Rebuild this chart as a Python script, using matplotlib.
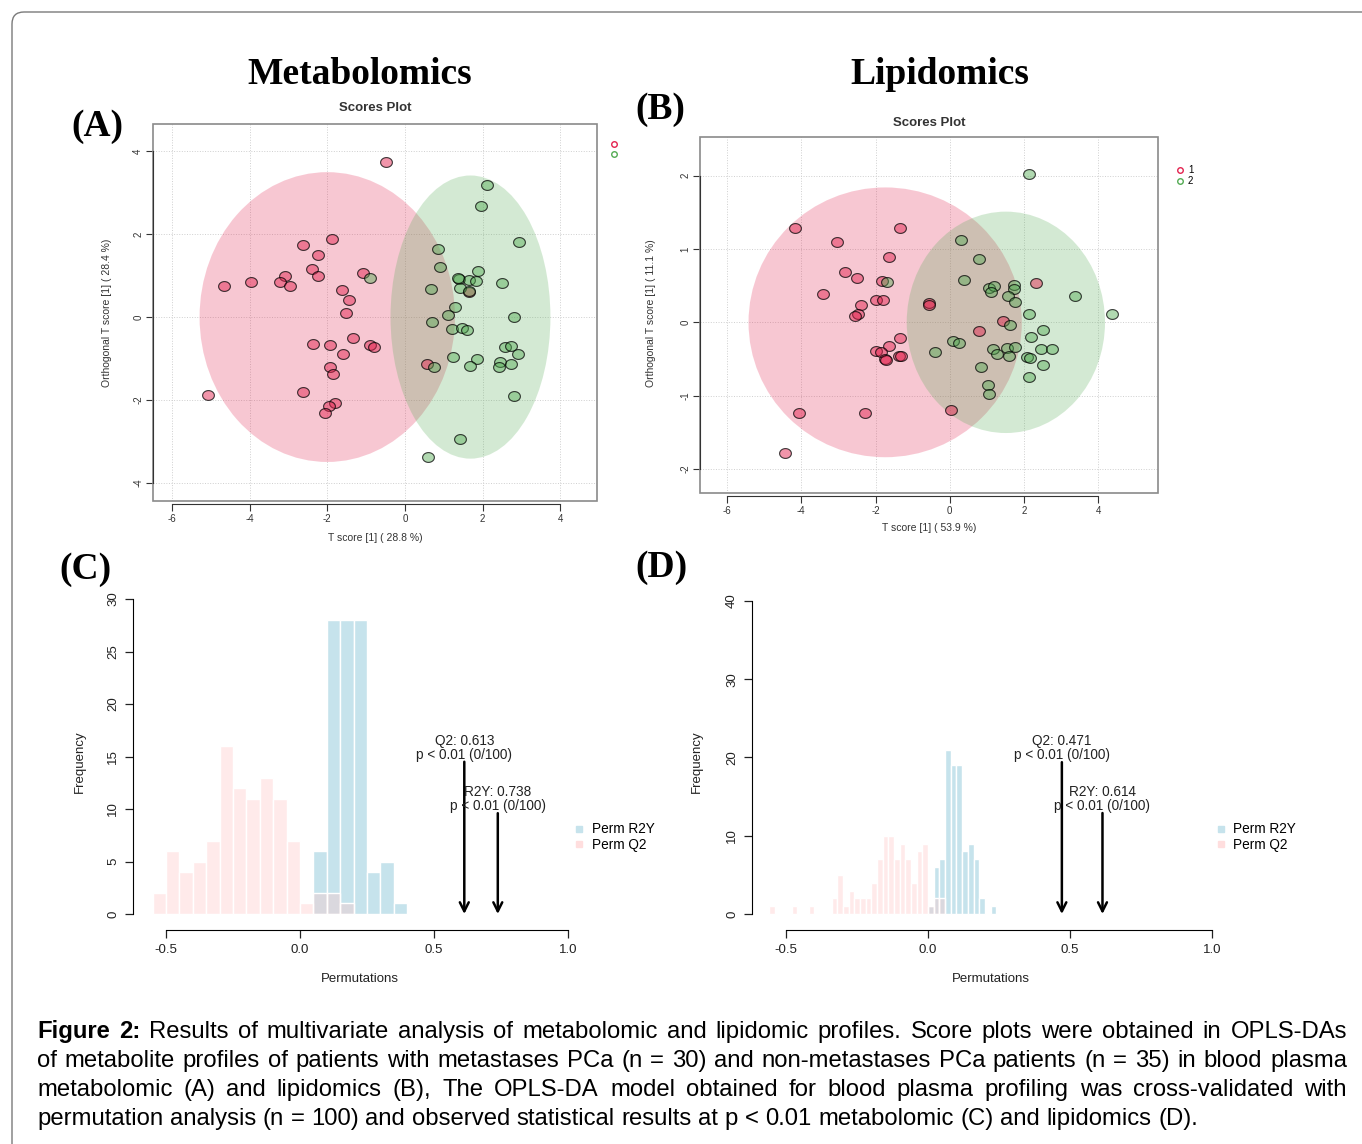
import numpy as np
import matplotlib
matplotlib.use('Agg')
import matplotlib.pyplot as plt
from matplotlib.patches import Ellipse, Rectangle, FancyBboxPatch
from matplotlib.path import Path
from matplotlib.lines import Line2D
from matplotlib.colors import to_rgba

plt.rcParams['font.family'] = ['Liberation Sans', 'DejaVu Sans']
plt.rcParams['axes.unicode_minus'] = False

# ---- (A) metabolomics scores ----
a_pink_x = [-0.49, -1.89, -2.63, -2.25, -2.40, -2.25, -3.08, -4.65, -3.96, -3.23,
            -2.96, -1.09, -1.63, -1.44, -1.52, -1.33, -2.36, -1.92, -1.60, -0.90,
            -0.80, -1.92, -1.84, -2.62, -5.08, -1.80, -1.95, -2.07, 0.57, 1.65]
a_pink_y = [3.73, 1.89, 1.73, 1.50, 1.16, 0.98, 1.00, 0.74, 0.85, 0.84,
            0.74, 1.05, 0.64, 0.42, 0.10, -0.51, -0.65, -0.68, -0.88, -0.68,
            -0.71, -1.21, -1.36, -1.81, -1.88, -2.07, -2.14, -2.30, -1.13, 0.61]
a_green_x = [-0.91, 2.12, 1.95, 2.93, 0.86, 0.91, 1.88, 1.39, 1.65, 1.84,
             2.50, 0.67, 1.43, 1.64, 1.30, 1.11, 2.80, 0.70, 1.21, 1.48,
             1.61, 2.57, 2.73, 2.91, 1.23, 1.85, 1.69, 2.46, 2.43, 2.74,
             0.74, 2.80, 1.41, 0.60, 1.37]
a_green_y = [0.95, 3.17, 2.68, 1.82, 1.64, 1.21, 1.12, 0.92, 0.89, 0.88,
             0.83, 0.67, 0.71, 0.63, 0.24, 0.04, 0.01, -0.11, -0.29, -0.27,
             -0.30, -0.71, -0.69, -0.88, -0.96, -1.02, -1.18, -1.08, -1.20, -1.12,
             -1.20, -1.90, -2.93, -3.37, 0.93]
# ellipse: centre x, centre y, width, height, angle
a_ell_pink = (-2.0, 0.0, 6.58, 6.98, 0)
a_ell_green = (1.69, 0.0, 4.12, 6.82, 0)

# ---- (B) lipidomics scores ----
b_pink_x = [-4.16, -1.34, -3.04, -1.65, -2.83, -2.49, -1.82, -3.42, -1.98, -1.81,
            -2.39, -2.46, -2.55, -0.57, -0.56, 2.33, 1.43, 0.78, -1.33, -1.65,
            -1.99, -1.84, -1.74, -1.71, -1.38, -1.32, -4.05, -2.29, 0.04, -4.43]
b_pink_y = [1.29, 1.28, 1.09, 0.89, 0.69, 0.60, 0.57, 0.38, 0.30, 0.30,
            0.23, 0.12, 0.08, 0.27, 0.24, 0.53, 0.02, -0.12, -0.21, -0.32,
            -0.39, -0.41, -0.50, -0.51, -0.46, -0.46, -1.24, -1.24, -1.19, -1.78]
b_green_x = [2.13, 0.30, 0.78, 0.39, -1.68, 1.05, 1.20, 1.11, 1.73, 1.73,
             1.57, 1.76, 3.38, 2.13, 4.37, 1.61, 2.50, 2.19, 0.09, 0.25,
             -0.41, 1.17, 1.28, 1.55, 1.76, 1.59, 2.45, 2.74, 2.09, 2.17,
             2.50, 0.85, 2.12, 1.02, 1.06]
b_green_y = [2.03, 1.12, 0.86, 0.58, 0.55, 0.47, 0.49, 0.41, 0.51, 0.45,
             0.36, 0.28, 0.36, 0.12, 0.11, -0.03, -0.10, -0.20, -0.25, -0.28,
             -0.40, -0.37, -0.43, -0.35, -0.33, -0.46, -0.36, -0.36, -0.47, -0.48,
             -0.58, -0.61, -0.75, -0.86, -0.98]
b_ell_pink = (-1.74, 0.0, 7.36, 3.68, 0)
b_ell_green = (1.51, 0.0, 5.34, 3.02, 0)

# ---- (C) permutation histogram, metabolomics ----
c_q2_left = [-0.55, -0.50, -0.45, -0.40, -0.35, -0.30, -0.25, -0.20, -0.15, -0.10,
             -0.05, 0.00, 0.05, 0.10, 0.15]
c_q2_count = [2, 6, 4, 5, 7, 16, 12, 11, 13, 11, 7, 1, 2, 2, 1]
c_r2y_left = [0.05, 0.10, 0.15, 0.20, 0.25, 0.30, 0.35]
c_r2y_count = [6, 28, 28, 28, 4, 5, 1]
c_binw = 0.05
c_q2, c_r2y = 0.613, 0.738

# ---- (D) permutation histogram, lipidomics ----
d_q2_left = [-0.56, -0.48, -0.42, -0.34, -0.32, -0.30, -0.28, -0.26, -0.24, -0.22,
             -0.20, -0.18, -0.16, -0.14, -0.12, -0.10, -0.08, -0.06, -0.04, -0.02,
             0.00, 0.02, 0.04]
d_q2_count = [1, 1, 1, 2, 5, 1, 3, 2, 2, 2, 4, 7, 10, 10, 7, 9, 7, 4, 8, 9, 1, 2, 2]
d_r2y_left = [0.00, 0.02, 0.04, 0.06, 0.08, 0.10, 0.12, 0.14, 0.16, 0.18, 0.22]
d_r2y_count = [1, 6, 7, 21, 19, 19, 8, 9, 7, 2, 1]
d_binw = 0.02
d_q2, d_r2y = 0.471, 0.614

caption = [
    "Figure 2: Results of multivariate analysis of metabolomic and lipidomic profiles. Score plots were obtained in OPLS-DAs",
    "of metabolite profiles of patients with metastases PCa (n = 30) and non-metastases PCa patients (n = 35) in blood plasma",
    "metabolomic (A) and lipidomics (B), The OPLS-DA model obtained for blood plasma profiling was cross-validated with",
    "permutation analysis (n = 100) and observed statistical results at p < 0.01 metabolomic (C) and lipidomics (D).",
]

PINK = '#e3234f'
GREEN = '#53ab53'
BLUE_H = '#c6e3ec'
PINK_H = (1.0, 0.78, 0.78, 0.36)

W, H = 1362, 1144
fig = plt.figure(figsize=(W / 100, H / 100), dpi=100)


def px_axes(l, t, r, b):
    return fig.add_axes([l / W, 1 - b / H, (r - l) / W, (b - t) / H])


def ftext(x, y, s, **kw):
    kw.setdefault('ha', 'center')
    kw.setdefault('va', 'center')
    return fig.text(x / W, 1 - y / H, s, **kw)


th = np.linspace(0, 2 * np.pi, 61)
oval = Path(np.column_stack([1.2 * np.cos(th), np.sin(th)]))


def scores_panel(box, xlim, ylim, xt, yt, px, py, gx, gy, ep, eg, labels, leg_xy):
    ax = px_axes(*box)
    ax.set_xlim(xlim)
    ax.set_ylim(ylim)
    ax.set_xticks(xt)
    ax.set_yticks(yt)
    ax.grid(True, ls=':', color='#cfcfcf', lw=0.7)
    ax.set_axisbelow(True)
    for (cx, cy, w, h, ang), col in [(ep, PINK), (eg, GREEN)]:
        ax.add_patch(Ellipse((cx, cy), w, h, angle=ang, facecolor=col,
                             alpha=0.25, edgecolor='none', zorder=1))
    ax.scatter(px, py, s=72, marker=oval, facecolors=[to_rgba(PINK, 0.48)],
               edgecolors=[(0, 0, 0, 0.75)], linewidths=0.8, zorder=3)
    ax.scatter(gx, gy, s=72, marker=oval, facecolors=[to_rgba(GREEN, 0.45)],
               edgecolors=[(0, 0, 0, 0.75)], linewidths=0.8, zorder=3)
    ax.add_patch(Rectangle((0, 0), 1, 1, transform=ax.transAxes, fill=False,
                           ec='#8a8a8a', lw=1.2, clip_on=False, zorder=4))
    for s in ['top', 'right']:
        ax.spines[s].set_visible(False)
    ax.spines['left'].set_bounds(yt[0], yt[-1])
    ax.spines['bottom'].set_bounds(xt[0], xt[-1])
    ax.spines['bottom'].set_position(('outward', 2))
    for s in ['left', 'bottom']:
        ax.spines[s].set_color('#333333')
        ax.spines[s].set_zorder(5)
    ax.tick_params(length=5, width=0.8, labelsize=7, pad=2, colors='#333333')
    ax.tick_params(axis='y', labelrotation=90)
    for lab in ax.get_yticklabels():
        lab.set_va('center')
    handles = [Line2D([], [], ls='', marker='o', mfc='none', mec=PINK, ms=4, mew=1),
               Line2D([], [], ls='', marker='o', mfc='none', mec=GREEN, ms=4, mew=1)]
    ax.legend(handles, labels, loc='upper left', bbox_to_anchor=leg_xy,
              frameon=False, fontsize=7, handlelength=0.8, handletextpad=0.4,
              labelspacing=0.05, borderpad=0, borderaxespad=0)
    return ax


def perm_panel(box, xlim, ylim, yt, ql, qc, rl, rc, bw, q2, r2y, qa, ra, leg_xy):
    ax = px_axes(*box)
    ax.set_xlim(xlim)
    ax.set_ylim(ylim)
    ax.bar(rl, rc, width=bw, align='edge', color=BLUE_H, edgecolor='white', lw=1.0)
    ax.bar(ql, qc, width=bw, align='edge', color=PINK_H, edgecolor='white', lw=1.0)
    for s in ['top', 'right']:
        ax.spines[s].set_visible(False)
    ax.spines['left'].set_bounds(yt[0], yt[-1])
    ax.spines['bottom'].set_bounds(-0.5, 1.0)
    ax.set_xticks([-0.5, 0.0, 0.5, 1.0])
    ax.set_xticklabels(['-0.5', '0.0', '0.5', '1.0'])
    ax.set_yticks(yt)
    ax.tick_params(length=6, width=0.9, labelsize=9.5, pad=4, colors='#222222')
    ax.tick_params(axis='y', labelrotation=90)
    for lab in ax.get_yticklabels():
        lab.set_va('center')
    for val, top, name in [(q2, qa, 'Q2'), (r2y, ra, 'R2Y')]:
        ax.annotate('', xy=(val, 0), xytext=(val, top),
                    arrowprops=dict(arrowstyle='->', lw=1.8, color='black',
                                    mutation_scale=16, shrinkA=0, shrinkB=0))
        ax.text(val, top, '%s: %.3f\np < 0.01 (0/100)' % (name, val),
                ha='center', va='bottom', fontsize=9.8, linespacing=1.0,
                color='#222222')
    handles = [Line2D([], [], ls='', marker='s', color=BLUE_H, ms=4.5),
               Line2D([], [], ls='', marker='s', color=(1.0, 0.87, 0.87), ms=4.5)]
    ax.legend(handles, ['Perm R2Y', 'Perm Q2'], loc='center left',
              bbox_to_anchor=leg_xy, frameon=False, fontsize=9.8,
              handlelength=0.8, handletextpad=0.5, labelspacing=0.1,
              borderpad=0, borderaxespad=0)
    return ax


scores_panel((153, 124, 597, 501), (-6.49, 4.95), (-4.43, 4.65),
             [-6, -4, -2, 0, 2, 4], [-4, -2, 0, 2, 4],
             a_pink_x, a_pink_y, a_green_x, a_green_y, a_ell_pink, a_ell_green,
             ['', ''], (1.03, 0.96))
scores_panel((700, 137, 1158, 493), (-6.727, 5.607), (-2.328, 2.528),
             [-6, -4, -2, 0, 2, 4], [-2, -1, 0, 1, 2],
             b_pink_x, b_pink_y, b_green_x, b_green_y, b_ell_pink, b_ell_green,
             ['1', '2'], (1.04, 0.92))

perm_panel((133, 586, 590, 930), (-0.623, 1.082), (-1.524, 31.24),
           [0, 5, 10, 15, 20, 25, 30], c_q2_left, c_q2_count,
           c_r2y_left, c_r2y_count, c_binw, c_q2, c_r2y, 14.5, 9.6, (0.965, 0.27))
perm_panel((752, 588, 1230, 930), (-0.62, 1.063), (-2.045, 41.66),
           [0, 10, 20, 30, 40], d_q2_left, d_q2_count,
           d_r2y_left, d_r2y_count, d_binw, d_q2, d_r2y, 19.4, 12.9, (0.97, 0.272))

# panel texts
small = dict(fontsize=7.5, color='#333333')
ftext(375, 108, 'Scores Plot', fontsize=9.5, weight='bold', color='#333333')
ftext(375, 538, 'T score [1] ( 28.8 %)', **small)
ftext(107, 313, 'Orthogonal T score [1] ( 28.4 %)', rotation=90, **small)
ftext(929, 123, 'Scores Plot', fontsize=9.5, weight='bold', color='#333333')
ftext(929, 528, 'T score [1] ( 53.9 %)', **small)
ftext(651, 313, 'Orthogonal T score [1] ( 11.1 %)', rotation=90, **small)
for x in (80, 697):
    ftext(x, 762, 'Frequency', rotation=90, fontsize=9.5, color='#222222')
ftext(360, 979, 'Permutations', fontsize=9.5, color='#222222')
ftext(991, 979, 'Permutations', fontsize=9.5, color='#222222')

serif = dict(family=['Liberation Serif', 'DejaVu Serif'], weight='bold',
             fontsize=27, va='baseline')
ftext(360, 84, 'Metabolomics', **serif)
ftext(940, 84, 'Lipidomics', **serif)
ftext(97, 136, '(A)', **serif)
ftext(660, 119, '(B)', **serif)
ftext(85, 579, '(C)', **serif)
ftext(661, 577, '(D)', **serif)

# caption, justified
renderer = fig.canvas.get_renderer()


def width_of(s, size, weight='normal'):
    t = fig.text(0, 0, s, fontsize=size, fontweight=weight)
    w = t.get_window_extent(renderer).width
    t.remove()
    return w


cap_size = 10 * 1163 / width_of(caption[-1], 10)
x_left, x_right = 37, 1347
baselines = [1038, 1067, 1096, 1125]
for i, line in enumerate(caption):
    words = line.split(' ')
    weights = ['bold' if (i == 0 and j < 2) else 'normal' for j in range(len(words))]
    widths = [width_of(w, cap_size, wt) for w, wt in zip(words, weights)]
    if i < len(caption) - 1:
        gap = (x_right - x_left - sum(widths)) / (len(words) - 1)
    else:
        gap = width_of('a a', cap_size) - width_of('aa', cap_size)
    x = x_left
    for w, wt, wd in zip(words, weights, widths):
        ftext(x, baselines[i], w, fontsize=cap_size, fontweight=wt,
              ha='left', va='baseline', color='black')
        x += wd + gap

border = FancyBboxPatch((0.12, -0.5), 14.0, 11.32 + 0.5,
                        boxstyle='round,pad=0,rounding_size=0.12',
                        transform=fig.dpi_scale_trans, fc='none',
                        ec='#7a7a7a', lw=1.0)
fig.add_artist(border)

fig.savefig('out.png', dpi=100, facecolor='white')
